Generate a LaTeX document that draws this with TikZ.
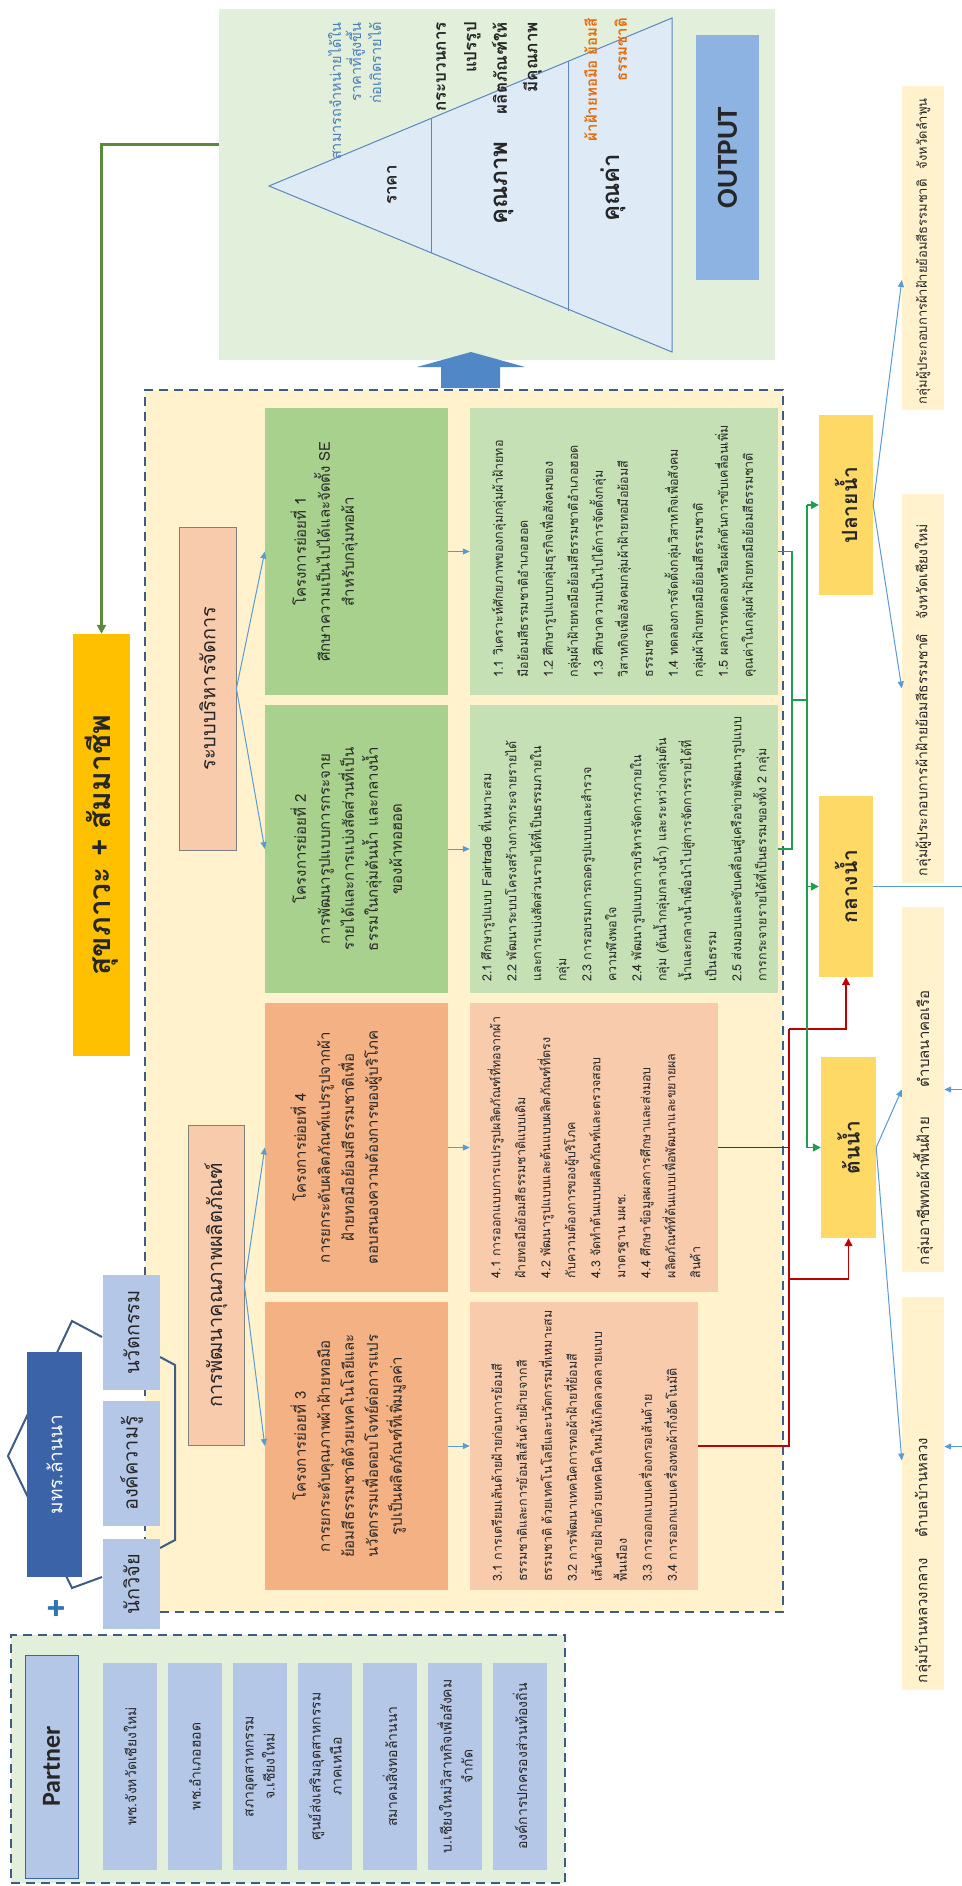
\documentclass[tikz,border=0pt]{standalone}
\usepackage{fontspec}
\setmainfont[Script=Thai]{Loma}
\newfontfamily\latinfont{Carlito}
\usetikzlibrary{arrows.meta,calc}
\newcommand\sz[2]{\fontsize{#1}{#2}\selectfont}
\newcommand\ptop[1]{\parbox[c][176pt][t]{280pt}{\centering\vspace*{22pt}#1}}
\definecolor{ybg}{HTML}{FFF2CC}
\definecolor{dashc}{HTML}{3E5C84}
\definecolor{ogreen}{HTML}{E2EFDA}
\definecolor{dgreen}{HTML}{A9D18E}
\definecolor{lgreen}{HTML}{C5E0B4}
\definecolor{dorange}{HTML}{F4B183}
\definecolor{lorange}{HTML}{F8CBAD}
\definecolor{pinkc}{HTML}{F8CBAD}
\definecolor{lblue}{HTML}{B4C7E7}
\definecolor{dblue}{HTML}{3A63A8}
\definecolor{gold}{HTML}{FFC000}
\definecolor{flowgold}{HTML}{FFD966}
\definecolor{arrowblue}{HTML}{5B9BD5}
\definecolor{redc}{HTML}{C00000}
\definecolor{greenc}{HTML}{1E9E50}
\definecolor{olive}{HTML}{5A8A3A}
\definecolor{trifill}{HTML}{DEEBF7}
\definecolor{tristroke}{HTML}{5B87C0}
\definecolor{outblue}{HTML}{8DB3E2}
\definecolor{bluetxt}{HTML}{4A7EBB}
\definecolor{orangetxt}{HTML}{E46C0A}
\definecolor{blockblue}{HTML}{4F87C7}
\definecolor{plusblue}{HTML}{2E75B6}
\definecolor{txt}{HTML}{262626}
\begin{document}
\begin{tikzpicture}[x=1pt,y=-1pt,
  rbox/.style={rotate=90, inner sep=0pt, align=center, text=txt},
  projbox/.style={rbox, minimum height=183pt, font=\sz{15}{24}},
  detbox/.style={rbox, align=left, font=\sz{12.5}{25}},
  pinkbox/.style={rbox, fill=pinkc, draw=gray, line width=0.8pt, font=\sz{20}{24}},
  itembox/.style={rbox, fill=lblue, minimum width=207pt, minimum height=54pt, font=\sz{14}{21}},
  flowbox/.style={rbox, fill=flowgold, font=\bfseries\sz{21}{24}},
  labbox/.style={rbox, fill=ybg, minimum height=42pt, align=left},
  barrow/.style={draw=arrowblue, line width=1pt, -{Triangle[length=7pt,width=6pt]}},
  bline/.style={draw=arrowblue, line width=1pt},
  redl/.style={draw=redc, line width=1.3pt},
  greenl/.style={draw=greenc, line width=1.5pt},
  dashbox/.style={draw=dashc, dash pattern=on 9pt off 6pt, line width=2pt, inner sep=0pt}
]
\useasboundingbox (0,0) rectangle (961,1886);
\fill[white] (0,0) rectangle (961,1886);

% ---------- output area ----------
\node[fill=ogreen, minimum width=556pt, minimum height=351pt, inner sep=0pt] (outbg) at (497,184.5) {};
\draw[tristroke, fill=trifill, line width=1pt] (269,186) -- (672,18) -- (672,352) -- cycle;
\draw[tristroke, line width=1pt] (431,118.5) -- (431,253.5);
\draw[tristroke, line width=1pt] (568,61.4) -- (568,310.6);
\node[rbox, fill=outblue, minimum width=245pt, minimum height=63pt, font=\latinfont\bfseries\sz{29}{32}] (output) at (727.5,157.5) {OUTPUT};
\node[rotate=90, anchor=north east, align=right, inner sep=0pt, text=bluetxt, font=\sz{14.5}{20}] (t1) at (328,22) {สามารถจำหน่ายได้ใน\\ราคาที่สูงขึ้น\\ก่อเกิดรายได้};
\node[rotate=90, inner sep=0pt, text=txt, font=\bfseries\sz{17}{20}] (price) at (392,185) {ราคา};
\node[rotate=90, anchor=north east, align=right, inner sep=0pt, text=txt, font=\bfseries\sz{17}{30.5}] (t2) at (436,22) {กระบวนการ\\แปรรูป\\ผลิตภัณฑ์ให้\\มีคุณภาพ};
\node[rotate=90, inner sep=0pt, text=txt, font=\bfseries\sz{24}{28}] (qual) at (504,183) {คุณภาพ};
\node[rotate=90, anchor=north east, align=right, inner sep=0pt, text=orangetxt, font=\bfseries\sz{15}{30}] (t3) at (584,18) {ผ้าฝ้ายทอมือ ย้อมสี\\ธรรมชาติ};
\node[rotate=90, inner sep=0pt, text=txt, font=\bfseries\sz{24}{28}] (value) at (613,188) {คุณค่า};

% block arrow
\fill[blockblue] (441,388) -- (441,367) -- (417,367) -- (471,352) -- (525,367) -- (500,367) -- (500,388) -- cycle;

% ---------- frames ----------
\node[dashbox, fill=ybg, minimum width=638pt, minimum height=1222pt] (ybox) at (464,1001) {};
\node[dashbox, fill=ogreen, minimum width=554pt, minimum height=248pt] (pbox) at (288,1759) {};

% ---------- title ----------
\node[rbox, fill=gold, minimum width=422pt, minimum height=57pt, font=\bfseries\sz{30}{36}] (title) at (101.5,845) {สุขภาวะ + สัมมาชีพ};
\draw[olive, line width=3pt, -{Triangle[length=9pt,width=9pt]}] ([yshift=40pt]outbg.west) -| (title.east);

% ---------- group top-left ----------
\draw[dashc, line width=2pt] (102,1337) -- (72,1321) -- (8,1456) -- (72,1588) -- (102,1577);
\draw[dashc, line width=2pt] (160,1357) -- (175,1365) -- (175,1540) -- (160,1548);
\node[rbox, fill=dblue, text=white, minimum width=225pt, minimum height=55pt, font=\sz{19}{22}] (rmut) at (54.5,1464.5) {มทร.ล้านนา};
\node[rbox, fill=lblue, minimum width=115pt, minimum height=57pt, font=\sz{20}{22}] (inno) at (131.5,1332.5) {นวัตกรรม};
\node[rbox, fill=lblue, minimum width=125pt, minimum height=57pt, font=\sz{20}{22}] (know) at (131.5,1463.5) {องค์ความรู้};
\node[rbox, fill=lblue, minimum width=90pt, minimum height=57pt, font=\sz{20}{22}] (res) at (131.5,1584) {นักวิจัย};
\node[text=plusblue, inner sep=0pt, font=\bfseries\sz{34}{34}] (plus) at (56,1610) {+};

% ---------- partner ----------
\node[rbox, fill=lblue, draw=dblue, line width=1pt, minimum width=223pt, minimum height=53pt, font=\latinfont\bfseries\sz{26}{30}] (plabel) at (51.5,1766.5) {Partner};
\node[itembox] (pa1) at (130,1766.5) {พช.จังหวัดเชียงใหม่};
\node[itembox] (pa2) at (195,1766.5) {พช.อำเภอฮอด};
\node[itembox] (pa3) at (260,1766.5) {สภาอุตสาหกรรม\\จ.เชียงใหม่};
\node[itembox] (pa4) at (325,1766.5) {ศูนย์ส่งเสริมอุตสาหกรรม\\ภาคเหนือ};
\node[itembox] (pa5) at (390,1766.5) {สมาคมสิ่งทอล้านนา};
\node[itembox] (pa6) at (455,1766.5) {บ.เชียงใหม่วิสาหกิจเพื่อสังคม\\จำกัด};
\node[itembox] (pa7) at (520,1766.5) {องค์การปกครองส่วนท้องถิ่น};

% ---------- pink labels ----------
\node[pinkbox, minimum width=323pt, minimum height=57pt] (sys) at (207.5,688.5) {ระบบบริหารจัดการ};
\node[pinkbox, minimum width=320pt, minimum height=56pt] (dev) at (216,1285) {การพัฒนาคุณภาพผลิตภัณฑ์};

% ---------- project boxes ----------
\node[projbox, fill=dgreen, minimum width=287pt] (p1) at (356.5,551.5) {\ptop{โครงการย่อยที่ 1\\ศึกษาความเป็นไปได้และจัดตั้ง SE\\สำหรับกลุ่มทอผ้า}};
\node[projbox, fill=dgreen, minimum width=288pt] (p2) at (356.5,849) {\ptop{โครงการย่อยที่ 2\\การพัฒนารูปแบบการกระจาย\\รายได้และการแบ่งสัดส่วนที่เป็น\\ธรรมในกลุ่มต้นน้ำ และกลางน้ำ\\ของผ้าทอฮอด}};
\node[projbox, fill=dorange, minimum width=289pt] (p4) at (356.5,1147.5) {\ptop{โครงการย่อยที่ 4\\การยกระดับผลิตภัณฑ์แปรรูปจากผ้า\\ฝ้ายทอมือย้อมสีธรรมชาติเพื่อ\\ตอบสนองความต้องการของผู้บริโภค}};
\node[projbox, fill=dorange, minimum width=288pt] (p3) at (356.5,1446) {\ptop{โครงการย่อยที่ 3\\การยกระดับคุณภาพผ้าฝ้ายทอมือ\\ย้อมสีธรรมชาติด้วยเทคโนโลยีและ\\นวัตกรรมเพื่อตอบโจทย์ต่อการแปร\\รูปเป็นผลิตภัณฑ์ที่เพิ่มมูลค่า}};

\draw[barrow] (sys.south) -- (p1.north);
\draw[barrow] (sys.south) -- (p2.north);
\draw[barrow] (dev.south) -- (p4.north);
\draw[barrow] (dev.south) -- (p3.north);

% ---------- detail boxes ----------
\node[detbox, fill=lgreen, minimum width=287pt, minimum height=308pt] (d1) at (624,551.5) {1.1 วิเคราะห์ศักยภาพของกลุ่มกลุ่มผ้าฝ้ายทอ\\มือย้อมสีธรรมชาติอำเภอฮอด\\1.2 ศึกษารูปแบบกลุ่มธุรกิจเพื่อสังคมของ\\กลุ่มผ้าฝ้ายทอมือย้อมสีธรรมชาติอำเภอฮอด\\1.3 ศึกษาความเป็นไปได้การจัดตั้งกลุ่ม\\วิสาหกิจเพื่อสังคมกลุ่มผ้าฝ้ายทอมือย้อมสี\\ธรรมชาติ\\1.4 ทดลองการจัดตั้งกลุ่มวิสาหกิจเพื่อสังคม\\กลุ่มผ้าฝ้ายทอมือย้อมสีธรรมชาติ\\1.5 ผลการทดลองหรือผลักดันการขับเคลื่อนเพิ่ม\\คุณค่าในกลุ่มผ้าฝ้ายทอมือย้อมสีธรรมชาติ};
\node[detbox, fill=lgreen, minimum width=288pt, minimum height=308pt] (d2) at (624,849) {2.1 ศึกษารูปแบบ Fairtrade ที่เหมาะสม\\2.2 พัฒนาระบบโครงสร้างการกระจายรายได้\\และการแบ่งสัดส่วนรายได้ที่เป็นธรรมภายใน\\กลุ่ม\\2.3 การอบรมการถอดรูปแบบและสำรวจ\\ความพึงพอใจ\\2.4 พัฒนารูปแบบการบริหารจัดการภายใน\\กลุ่ม (ต้นน้ำกลุ่มกลางน้ำ) และระหว่างกลุ่มต้น\\น้ำและกลางน้ำเพื่อนำไปสู่การจัดการรายได้ที่\\เป็นธรรม\\2.5 ส่งมอบและขับเคลื่อนสู่เครือข่ายพัฒนารูปแบบ\\การกระจายรายได้ที่เป็นธรรมของทั้ง 2 กลุ่ม};
\node[detbox, fill=lorange, minimum width=289pt, minimum height=248pt] (d4) at (594,1147.5) {4.1 การออกแบบการแปรรูปผลิตภัณฑ์ที่ทอจากผ้า\\ฝ้ายทอมือย้อมสีธรรมชาติแบบเดิม\\4.2 พัฒนารูปแบบและต้นแบบผลิตภัณฑ์ที่ตรง\\กับความต้องการของผู้บริโภค\\4.3 จัดทำต้นแบบผลิตภัณฑ์และตรวจสอบ\\มาตรฐาน มผช.\\4.4 ศึกษาข้อมูลผลการศึกษาและส่งมอบ\\ผลิตภัณฑ์ที่ต้นแบบเพื่อพัฒนาและขยายผล\\สินค้า};
\node[detbox, fill=lorange, minimum width=288pt, minimum height=228pt] (d3) at (584,1446) {3.1 การเตรียมเส้นด้ายฝ้ายก่อนการย้อมสี\\ธรรมชาติและการย้อมสีเส้นด้ายฝ้ายจากสี\\ธรรมชาติ ด้วยเทคโนโลยีและนวัตกรรมที่เหมาะสม\\3.2 การพัฒนาเทคนิคการทอผ้าฝ้ายที่ย้อมสี\\เส้นด้ายฝ้ายด้วยเทคนิคใหม่ให้เกิดลวดลายแบบ\\พื้นเมือง\\3.3 การออกแบบเครื่องกรอเส้นด้าย\\3.4 การออกแบบเครื่องทอผ้ากึ่งอัตโนมัติ};

\draw[barrow] (p1.south) -- (d1.north);
\draw[barrow] (p2.south) -- (d2.north);
\draw[barrow] (p4.south) -- (d4.north);
\draw[barrow] (p3.south) -- (d3.north);

% ---------- flow ----------
\node[flowbox, minimum width=180pt, minimum height=54pt] (plai) at (846,505) {ปลายน้ำ};
\node[flowbox, minimum width=181pt, minimum height=54pt] (klang) at (846,886.5) {กลางน้ำ};
\node[flowbox, minimum width=181pt, minimum height=55pt] (ton) at (848.5,1147.5) {ต้นน้ำ};

\node[labbox, minimum width=324pt, font=\sz{13}{16}] (L1) at (923,248) {\makebox[312pt][l]{กลุ่มผู้ประกอบการผ้าฝ้ายย้อมสีธรรมชาติ\hspace{10pt}จังหวัดลำพูน}};
\node[labbox, minimum width=389pt, font=\sz{14}{16}] (L2) at (923,688.5) {\makebox[375pt][l]{กลุ่มผู้ประกอบการผ้าฝ้ายย้อมสีธรรมชาติ\hspace{14pt}จังหวัดเชียงใหม่}};
\node[labbox, minimum width=365pt, font=\sz{15}{17}] (L3) at (923,1089.5) {\makebox[351pt][l]{กลุ่มอาชีพทอผ้าพื้นฝ้าย\hspace{30pt}ตำบลนาคอเรือ}};
\node[labbox, minimum width=393pt, font=\sz{15}{17}] (L4) at (923,1493.5) {\makebox[379pt][l]{กลุ่มบ้านหลวงกลาง\hspace{20pt}ตำบลบ้านหลวง}};

% red connectors
\coordinate (rb1) at (789,1029);
\coordinate (rb2) at (789,1279);
\draw[redl] (d3.south) -- (d3.south -| rb1) -- (rb1);
\draw[redl] (d4.south) -- (d4.south -| rb1);
\draw[redl, -{Triangle[length=8pt,width=8pt]}] (rb1) -| (klang.west);
\draw[redl, -{Triangle[length=8pt,width=8pt]}] (rb2) -| (ton.west);

% green connectors
\coordinate (gb) at (792,700);
\coordinate (gv) at (807,700);
\draw[greenl] (d1.south) -| (gb) |- (d2.south);
\draw[greenl] (gb) -- (gv);
\draw[greenl] (gv |- plai.north) -- (gv |- ton.north);
\draw[greenl, -{Triangle[length=8pt,width=8pt]}] (gv |- plai.north) -- (plai.north);
\draw[greenl, -{Triangle[length=8pt,width=8pt]}] (gv |- klang.north) -- (klang.north);
\draw[greenl, -{Triangle[length=8pt,width=8pt]}] (gv |- ton.north) -- (ton.north);

% blue connectors to groups
\draw[barrow] (plai.south) -- ($(L1.north)+(0,32)$);
\draw[barrow] (plai.south) -- (L2.north);
\draw[barrow] (ton.south) -- (L3.north);
\draw[barrow] (ton.south) -- ($(L4.north)+(0,-33)$);
\coordinate (ex) at (963,0);
\coordinate (L4r) at ($(L4.south)+(0,-47)$);
\draw[bline] (klang.south) -- (klang.south -| ex) -- (ex |- L4r);
\draw[barrow] (ex |- L3.south) -- (L3.south);
\draw[barrow] (ex |- L4r) -- (L4r);
\end{tikzpicture}
\end{document}
